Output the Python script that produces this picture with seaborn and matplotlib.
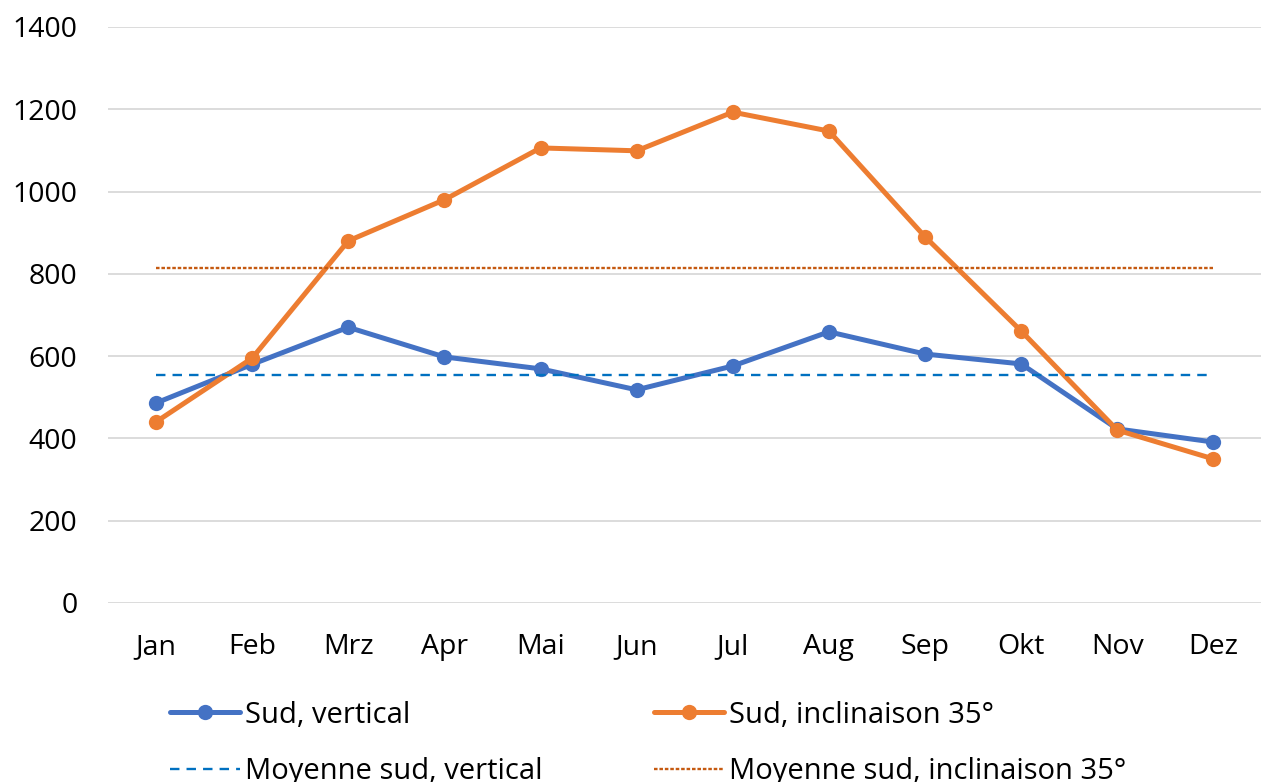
import matplotlib
matplotlib.use("Agg")
import matplotlib.pyplot as plt
import seaborn as sns
import pandas as pd

months = ["Jan", "Feb", "Mrz", "Apr", "Mai", "Jun", "Jul", "Aug", "Sep", "Okt", "Nov", "Dez"]
sud_vertical = [486, 580, 670, 598, 569, 518, 576, 659, 605, 581, 423, 391]
sud_incl35 = [440, 595, 880, 980, 1106, 1099, 1193, 1147, 890, 661, 420, 350]
moy_vertical = [555] * 12
moy_incl35 = [813] * 12
yticks = [0, 200, 400, 600, 800, 1000, 1200, 1400]

labels = ["Sud, vertical", "Sud, inclinaison 35°",
          "Moyenne sud, vertical", "Moyenne sud, inclinaison 35°"]

sns.set_theme(style="white")
plt.rcParams["font.family"] = ["Open Sans", "DejaVu Sans"]
plt.rcParams["text.color"] = "black"

df = pd.DataFrame({
    "x": list(range(12)) * 4,
    "y": sud_vertical + sud_incl35 + moy_vertical + moy_incl35,
    "serie": sum([[l] * 12 for l in labels], []),
})

fig = plt.figure(figsize=(12.64, 7.82), dpi=100)
ax = fig.add_axes([0.0854, 0.229, 0.9126, 0.7365])

styles = {
    labels[0]: dict(color="#4472C4", lw=3.6, marker="o", ms=11, ls="-"),
    labels[1]: dict(color="#ED7D31", lw=3.6, marker="o", ms=11, ls="-"),
    labels[2]: dict(color="#0070C0", lw=1.7, marker=None, ms=0, ls=(0, (4, 3))),
    labels[3]: dict(color="#C55A11", lw=1.7, marker=None, ms=0, ls=(0, (1.5, 0.8))),
}

handles = {}
for lab in labels:
    st = styles[lab]
    sub = df[df["serie"] == lab]
    sns.lineplot(data=sub, x="x", y="y", ax=ax, color=st["color"], linewidth=st["lw"],
                 marker=st["marker"], markersize=st["ms"], markeredgewidth=0,
                 linestyle=st["ls"], label=lab, legend=False, zorder=3)
    handles[lab] = ax.lines[-1]

ax.set_xlim(-0.5, 11.5)
ax.set_ylim(0, 1400)
ax.set_yticks(yticks)
ax.set_yticklabels([str(v) for v in yticks])
ax.set_xticks(range(12))
ax.set_xticklabels(months)
ax.grid(axis="y", color="#D9D9D9", linewidth=1.3, zorder=0)
ax.grid(axis="x", visible=False)
for s in ax.spines.values():
    s.set_visible(False)
ax.tick_params(axis="both", length=0, labelsize=20.5, colors="black")
ax.tick_params(axis="y", pad=22)
ax.tick_params(axis="x", pad=22)
ax.set_xlabel("")
ax.set_ylabel("")

order = [labels[0], labels[2], labels[1], labels[3]]
leg = fig.legend([handles[l] for l in order], order, ncol=2, loc="upper left",
                 bbox_to_anchor=(0.125, 0.119), frameon=False, fontsize=21,
                 handlelength=2.4, handletextpad=0.17, columnspacing=3.85,
                 labelspacing=0.95, borderaxespad=0)
for t in leg.get_texts():
    t.set_color("black")

fig.savefig("out.png", dpi=100)
